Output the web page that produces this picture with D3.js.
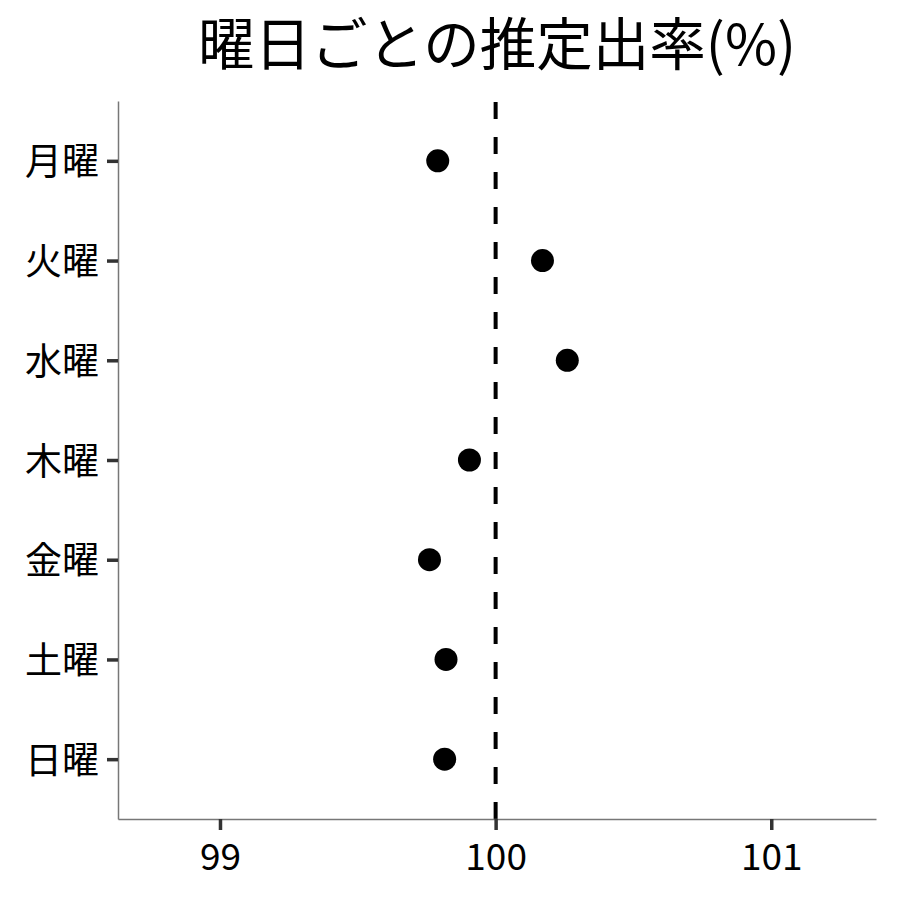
<!DOCTYPE html>
<html>
<head>
<meta charset="utf-8">
<script src="https://cdn.jsdelivr.net/npm/d3@7"></script>
<style>
  body { margin: 0; background: #fff; }
  text { font-family: "Noto Sans CJK JP", "Noto Sans", sans-serif; }
</style>
</head>
<body>
<script>
// data
var days = ["月曜", "火曜", "水曜", "木曜", "金曜", "土曜", "日曜"];
var rates = [99.79, 100.17, 100.26, 99.905, 99.76, 99.82, 99.815];
var xTicks = [99, 100, 101];
var refValue = 100;
var title = "曜日ごとの推定出率(%)";

var w = 900;
var h = 900;
var margin = {top: 101, right: 24, bottom: 81, left: 118};

var svg = d3.select("body")
            .append("svg")
            .attr("width", w)
            .attr("height", h);

var x = d3.scaleLinear()
          .domain([98.63, 101.38])
          .range([margin.left, w - margin.right]);

// discrete axis with ggplot-like 0.6 expansion on each end
var y = d3.scalePoint()
          .domain(days)
          .range([margin.top, h - margin.bottom])
          .padding(0.6);

// reference line, dash pattern starting at the bottom
svg.append("line")
   .attr("x1", x(refValue))
   .attr("x2", x(refValue))
   .attr("y1", h - margin.bottom)
   .attr("y2", margin.top)
   .attr("stroke", "#000")
   .attr("stroke-width", 4)
   .attr("stroke-dasharray", "17,18");

// axes
var xAxis = svg.append("g")
               .attr("transform", "translate(0," + (h - margin.bottom) + ")")
               .call(d3.axisBottom(x).tickValues(xTicks).tickFormat(d3.format("d"))
                       .tickSize(11).tickPadding(6).tickSizeOuter(0));

var yAxis = svg.append("g")
               .attr("transform", "translate(" + margin.left + ",0)")
               .call(d3.axisLeft(y).tickSize(11).tickPadding(8).tickSizeOuter(0));

[xAxis, yAxis].forEach(function(g){
  g.select(".domain").attr("stroke", "#777").attr("stroke-width", 1.5);
  g.selectAll(".tick line").attr("stroke", "#333").attr("stroke-width", 3.5);
  g.selectAll(".tick text")
   .attr("fill", "#000")
   .style("font-size", "37px")
   .style("font-family", "'Noto Sans CJK JP', 'Noto Sans', sans-serif");
});

yAxis.selectAll(".tick text").attr("dy", "0.38em");
xAxis.selectAll(".tick text").attr("dy", "0.92em");

// points
svg.selectAll("circle.pt")
   .data(rates)
   .enter()
   .append("circle")
   .attr("class", "pt")
   .attr("cx", function(d){ return x(d); })
   .attr("cy", function(d, i){ return y(days[i]); })
   .attr("r", 11.5)
   .attr("fill", "#000");

svg.append("text")
   .attr("x", (margin.left + w - margin.right) / 2)
   .attr("y", 65)
   .attr("text-anchor", "middle")
   .style("font-size", "56.5px")
   .text(title);
</script>
</body>
</html>
